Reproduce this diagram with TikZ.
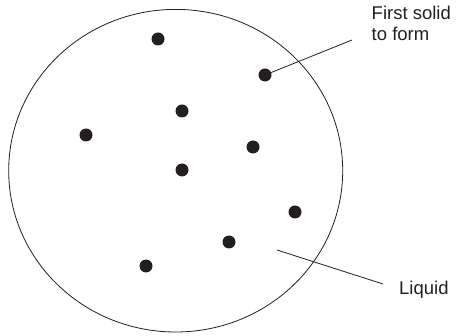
\documentclass[tikz,border=0pt]{standalone}
\usepackage{fontspec}
\setmainfont{Liberation Sans}
\definecolor{ink}{HTML}{231F20}
\begin{document}
\begin{tikzpicture}[x=1pt,y=-1pt,
  dot/.style={circle,fill=ink,inner sep=0pt,minimum size=13pt},
  lbl/.style={anchor=base west,inner sep=0pt,text=ink,font=\fontsize{18.5pt}{21pt}\selectfont,align=left},
  lead/.style={draw=ink,line width=0.8pt}]
\useasboundingbox (0,0) rectangle (457,336);
\draw[ink,line width=0.8pt] (175.7,170.7) ellipse [x radius=167, y radius=161.3];
\node[dot] (d1) at (158,39) {};
\node[dot] (d2) at (265,75) {};
\node[dot] (d3) at (182,111) {};
\node[dot] (d4) at (86,135) {};
\node[dot] (d5) at (253,147) {};
\node[dot] (d6) at (182,170) {};
\node[dot] (d7) at (295,212) {};
\node[dot] (d8) at (229,242) {};
\node[dot] (d9) at (146,266) {};
\node[lbl] (first) at (371.5,40.7) {First solid\\to form};
\node[lbl] (liquid) at (399,294) {Liquid};
\coordinate (fe) at (352,40);
\coordinate (ls) at (277,250);
\coordinate (le) at (383,284);
\draw[lead] (d2.center) -- (fe);
\draw[lead] (ls) -- (le);
\end{tikzpicture}
\end{document}
